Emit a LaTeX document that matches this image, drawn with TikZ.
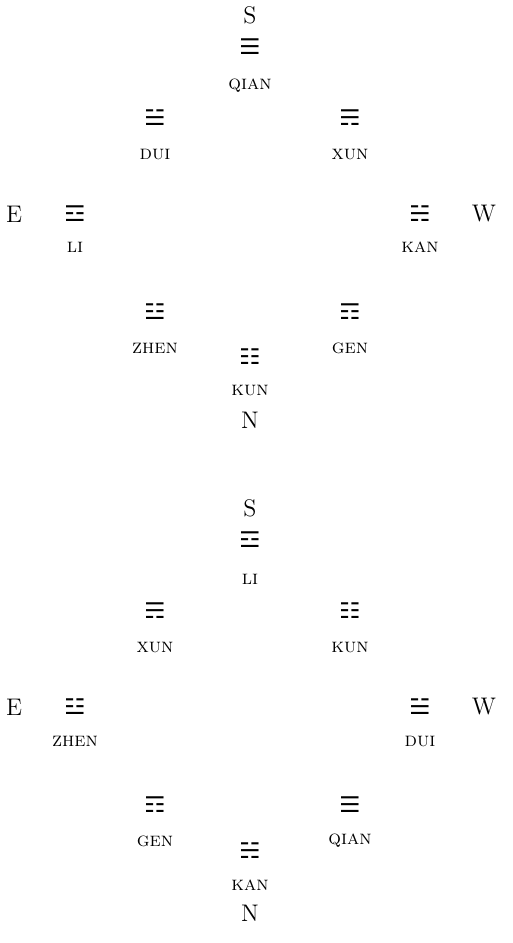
\documentclass[tikz,border=0pt]{standalone}
\usepackage{fontspec}
\newfontfamily\trifont{DejaVu Sans}[BoldFont={DejaVu Sans Bold}]

\begin{document}
\begin{tikzpicture}[
  x=0.5pt, y=-0.5pt,
  every node/.style={inner sep=0pt, anchor=center},
  dirn/.style={font=\large},
  tri/.style={font=\trifont\bfseries\large, yscale=0.9},
  lab/.style={font=\normalsize\scshape}
]
\useasboundingbox (0,0) rectangle (513,943);

% EARLIER HEAVEN
\node[dirn] (s1) at (250,15) {S};
\node[tri] (qian1) at (250,47) {☰};
\node[lab] (qianl1) at (250,86) {qian};
\node[tri] (dui1) at (155,118) {☱};
\node[lab] (duil1) at (155,154) {dui};
\node[tri] (xun1) at (350,118) {☴};
\node[lab] (xunl1) at (350,154) {xun};
\node[dirn] (e1) at (14,214) {E};
\node[tri] (li1) at (75,214) {☲};
\node[lab] (lil1) at (75,247) {li};
\node[tri] (kan1) at (420,214) {☵};
\node[lab] (kanl1) at (420,247) {kan};
\node[dirn] (w1) at (484,214) {W};
\node[tri] (zhen1) at (155,312) {☳};
\node[lab] (zhenl1) at (155,348) {zhen};
\node[tri] (gen1) at (350,312) {☶};
\node[lab] (genl1) at (350,348) {gen};
\node[tri] (kun1) at (250,357) {☷};
\node[lab] (kunl1) at (250,390) {kun};
\node[dirn] (n1) at (250,420) {N};

% LATER HEAVEN
\node[dirn] (s2) at (250,508) {S};
\node[tri] (li2) at (250,540) {☲};
\node[lab] (lil2) at (250,579) {li};
\node[tri] (xun2) at (155,611) {☴};
\node[lab] (xunl2) at (155,647) {xun};
\node[tri] (kun2) at (350,611) {☷};
\node[lab] (kunl2) at (350,647) {kun};
\node[dirn] (e2) at (14,707) {E};
\node[tri] (zhen2) at (75,707) {☳};
\node[lab] (zhenl2) at (75,741) {zhen};
\node[tri] (dui2) at (420,707) {☱};
\node[lab] (duil2) at (420,741) {dui};
\node[dirn] (w2) at (484,707) {W};
\node[tri] (gen2) at (155,805) {☶};
\node[lab] (genl2) at (155,841) {gen};
\node[tri] (qian2) at (350,805) {☰};
\node[lab] (qianl2) at (350,841) {qian};
\node[tri] (kan2) at (250,851) {☵};
\node[lab] (kanl2) at (250,885) {kan};
\node[dirn] (n2) at (250,913) {N};

\end{tikzpicture}
\end{document}
